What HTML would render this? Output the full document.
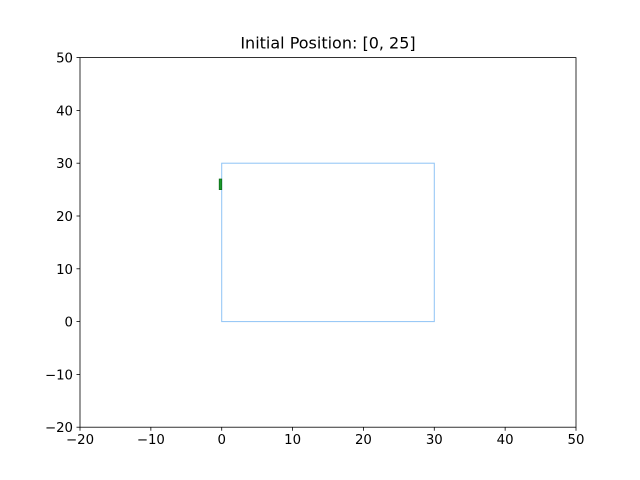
<!DOCTYPE html>
<html><head><meta charset="utf-8"><style>body{margin:0;background:#fff}svg{display:block;font-family:"DejaVu Sans","Liberation Sans",sans-serif}</style></head>
<body>
<svg id="c" width="640" height="480"></svg>
<script>
const xTicks=[-20,-10,0,10,20,30,40,50];
const yTicks=[-20,-10,0,10,20,30,40,50];
const boxX=[0,30];
const boxY=[0,30];
const markX=[-0.35,0];
const markY=[25,27];
const L=80,R=576,T=57.6,B=427.2;
const sx=v=>L+(v+20)/70*(R-L);
const sy=v=>B-(v+20)/70*(B-T);
const s=document.getElementById('c');
const NS='http://www.w3.org/2000/svg';
function add(tag,attrs,text){const e=document.createElementNS(NS,tag);for(const k in attrs)e.setAttribute(k,attrs[k]);if(text!==undefined)e.textContent=text;s.appendChild(e);return e;}
let e=add('rect',{x:sx(boxX[0]),y:sy(boxY[1]),width:sx(boxX[1])-sx(boxX[0]),height:sy(boxY[0])-sy(boxY[1]),fill:'none',stroke:'#8fc3f5','stroke-width':1});


e=add('rect',{x:sx(markX[0]),y:sy(markY[1]),width:sx(markX[1])-sx(markX[0]),height:sy(markY[0])-sy(markY[1]),fill:'#1a9a2a',stroke:'#0f6e1c','stroke-width':0.8});


e=add('rect',{x:L,y:T,width:R-L,height:B-T,fill:'none',stroke:'#000','stroke-width':0.8});


xTicks.forEach(v=>{
 let t=add('line',{x1:sx(v),x2:sx(v),y1:B,y2:B+3.5,stroke:'#000','stroke-width':0.8});
 
 
 t=add('text',{x:sx(v),y:B+17,'text-anchor':'middle','font-size':'13.3px'},v<0?'\u2212'+(-v):String(v));
 
 
});
yTicks.forEach(v=>{
 let t=add('line',{x1:L-3.5,x2:L,y1:sy(v),y2:sy(v),stroke:'#000','stroke-width':0.8});
 
 
 t=add('text',{x:L-7,y:sy(v)+5,'text-anchor':'end','font-size':'13.3px'},v<0?'\u2212'+(-v):String(v));
 
 
});
e=add('text',{x:(L+R)/2,y:T-9,'text-anchor':'middle','font-size':'16px'},'Initial Position: [0, 25]');


</script>
</body></html>
